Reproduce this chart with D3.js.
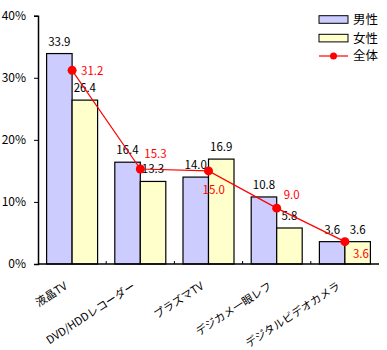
<!DOCTYPE html>
<html><head><meta charset="utf-8">
<script src="https://cdn.jsdelivr.net/npm/d3@7"></script>
<style>
body{margin:0;background:#fff;}
text{font-family:"Noto Sans CJK JP","Noto Sans",sans-serif;}
</style></head>
<body><svg id="c" width="387" height="350"></svg>
<script>
const categories = ["液晶TV","DVD/HDDレコーダー","プラズマTV","デジカメ一眼レフ","デジタルビデオカメラ"];
const male = [33.9,16.4,14.0,10.8,3.6];
const female = [26.4,13.3,16.9,5.8,3.6];
const total = [31.2,15.3,15.0,9.0,3.6];
const yTicks = [0,10,20,30,40];
const seriesNames = ["男性","女性","全体"];

const svg = d3.select("#c");
const x0 = 38, x1 = 379, yTop = 15.7, yBot = 264;
const x = d3.scaleBand().domain(categories).range([x0,x1]).paddingInner(0).paddingOuter(0);
const y = d3.scaleLinear().domain([0,40]).range([yBot,yTop]);
const bw = 25.5;

// bars
const g = svg.append("g");
categories.forEach((c,i)=>{
  const cx = x(c)+x.bandwidth()/2;
  g.append("rect").attr("x",cx-bw).attr("y",y(male[i])).attr("width",bw).attr("height",yBot-y(male[i]))
    .attr("fill","#ccccff").attr("stroke","#000").attr("stroke-width",1.2);
  g.append("rect").attr("x",cx).attr("y",y(female[i])).attr("width",bw).attr("height",yBot-y(female[i]))
    .attr("fill","#ffffcc").attr("stroke","#000").attr("stroke-width",1.2);
  g.append("text").attr("x",cx-bw/2).attr("y",y(male[i])-8).attr("text-anchor","middle")
    .attr("font-size",11.5).text(male[i].toFixed(1));
  g.append("text").attr("x",cx+bw/2).attr("y",y(female[i])-8).attr("text-anchor","middle")
    .attr("font-size",11.5).text(female[i].toFixed(1));
});

// axes
const ya = d3.axisLeft(y).tickValues(yTicks).tickSize(4).tickFormat(d=>d+"%");
const yg = svg.append("g").attr("transform",`translate(${x0},0)`).call(ya);
yg.select(".domain").attr("stroke","#000").attr("stroke-width",1.5);
yg.selectAll("text").attr("font-size",12).attr("x",-12).attr("fill","#000");
yg.selectAll("line").attr("stroke","#000");

const xa = d3.axisBottom(x).tickSize(0).tickFormat("");
const xg = svg.append("g").attr("transform",`translate(0,${yBot})`).call(xa);
xg.select(".domain").attr("stroke","#000").attr("stroke-width",1.5).attr("d",`M${x0},0H${x1}`);
categories.slice(1).forEach(c=>{
  xg.append("line").attr("x1",x(c)).attr("x2",x(c)).attr("y1",0).attr("y2",-3).attr("stroke","#000");
});
categories.forEach(c=>{
  const cx = x(c)+x.bandwidth()/2;
  svg.append("text").attr("transform",`translate(${cx-4},${yBot+24}) rotate(-33)`)
    .attr("text-anchor","end").attr("font-size",11).text(c);
});

// line
const line = d3.line().x((d,i)=>x(categories[i])+x.bandwidth()/2).y(d=>y(d));
svg.append("path").attr("d",line(total)).attr("fill","none").attr("stroke","#ff0000").attr("stroke-width",1.2);
const lblOff = [[9,5],[4,-11],[-6,23],[7,-9],[8,16]];
total.forEach((v,i)=>{
  const cx = x(categories[i])+x.bandwidth()/2;
  svg.append("circle").attr("cx",cx).attr("cy",y(v)).attr("r",4.5).attr("fill","#ff0000");
  svg.append("text").attr("x",cx+lblOff[i][0]).attr("y",y(v)+lblOff[i][1]).attr("font-size",11.5)
    .attr("fill","#ff0000").text(v.toFixed(1));
});

// legend
const lg = svg.append("g");
lg.append("rect").attr("x",319).attr("y",15.7).attr("width",29).attr("height",7.6).attr("fill","#ccccff").attr("stroke","#000");
lg.append("rect").attr("x",319).attr("y",34.3).attr("width",29).attr("height",7.6).attr("fill","#ffffcc").attr("stroke","#000");
lg.append("line").attr("x1",319).attr("x2",348).attr("y1",56).attr("y2",56).attr("stroke","#ff0000").attr("stroke-width",1.2);
lg.append("circle").attr("cx",333.5).attr("cy",56).attr("r",3.5).attr("fill","#ff0000");
[20,38.5,56].forEach((yy,i)=>{
  lg.append("text").attr("x",353).attr("y",yy).attr("dy","0.35em").attr("font-size",12.5).text(seriesNames[i]);
});
</script></body></html>
